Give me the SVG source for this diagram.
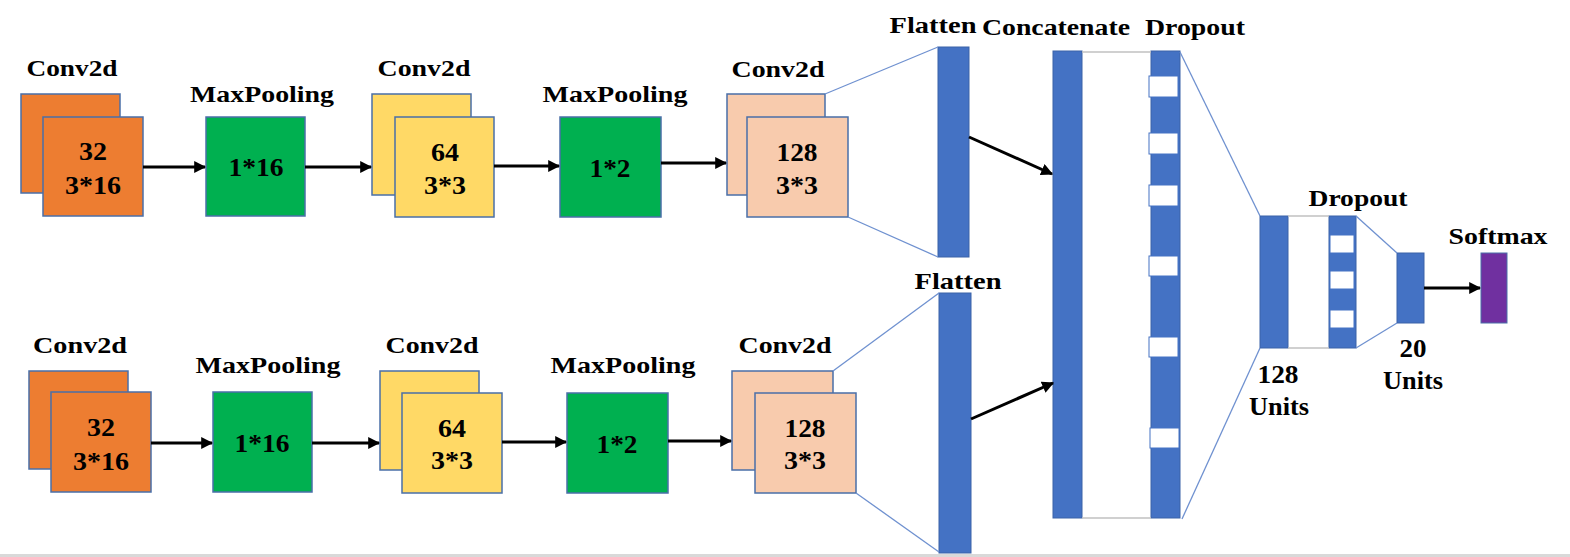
<svg xmlns="http://www.w3.org/2000/svg" width="1570" height="557" viewBox="0 0 1570 557">
<style>
.t{font-family:"Liberation Serif","Times New Roman",serif;font-weight:bold;font-size:24px;fill:#000;text-anchor:middle}
.n{font-family:"Liberation Serif","Times New Roman",serif;font-weight:bold;font-size:25px;fill:#000;text-anchor:middle}
.box{stroke:#4a6fa8;stroke-width:1.5}
.or{fill:#ED7D31}.gr{fill:#00B050}.ye{fill:#FFD966}.pe{fill:#F8CBAD}
.bar{fill:#4472C4;stroke:#3a62a8;stroke-width:1}
.hole{fill:#fff;stroke:#4472C4;stroke-width:1}
.arr{stroke:#000;stroke-width:3;fill:none;marker-end:url(#ah)}
.fan{stroke:#6f91d0;stroke-width:1.3;fill:none}
.gl{stroke:#c0c0c0;stroke-width:1.5;fill:none}
</style>
<defs>
<marker id="ah" viewBox="0 0 10 10" refX="9" refY="5" markerWidth="4" markerHeight="4" orient="auto" markerUnits="strokeWidth">
<path d="M0,0 L10,5 L0,10 z" fill="#000"/>
</marker>
</defs>
<rect x="0" y="0" width="1570" height="557" fill="#fff"/>
<rect x="0" y="554" width="1570" height="3" fill="#d9d9d9"/>

<!-- Top row -->
<g id="top-conv1">
<rect class="box or" x="21" y="94" width="99" height="99"/>
<rect class="box or" x="43" y="117" width="100" height="99"/>
<text class="t" x="72" y="76" textLength="91" lengthAdjust="spacingAndGlyphs">Conv2d</text>
<text class="n" x="93" y="160" textLength="28" lengthAdjust="spacingAndGlyphs">32</text>
<text class="n" x="93" y="194" textLength="56" lengthAdjust="spacingAndGlyphs">3*16</text>
</g>
<g id="top-pool1">
<rect class="box gr" x="206" y="117" width="99" height="99"/>
<text class="t" x="262" y="102" textLength="144" lengthAdjust="spacingAndGlyphs">MaxPooling</text>
<text class="n" x="256" y="176" textLength="55" lengthAdjust="spacingAndGlyphs">1*16</text>
</g>
<g id="top-conv2">
<rect class="box ye" x="372" y="94" width="99" height="101"/>
<rect class="box ye" x="395" y="117" width="99" height="100"/>
<text class="t" x="424" y="76" textLength="93" lengthAdjust="spacingAndGlyphs">Conv2d</text>
<text class="n" x="445" y="161" textLength="28" lengthAdjust="spacingAndGlyphs">64</text>
<text class="n" x="445" y="194" textLength="42" lengthAdjust="spacingAndGlyphs">3*3</text>
</g>
<g id="top-pool2">
<rect class="box gr" x="560" y="117" width="101" height="100"/>
<text class="t" x="615" y="102" textLength="145" lengthAdjust="spacingAndGlyphs">MaxPooling</text>
<text class="n" x="610" y="177" textLength="41" lengthAdjust="spacingAndGlyphs">1*2</text>
</g>
<g id="top-conv3">
<rect class="box pe" x="727" y="94" width="98" height="101"/>
<rect class="box pe" x="747" y="117" width="101" height="100"/>
<text class="t" x="778" y="77" textLength="93" lengthAdjust="spacingAndGlyphs">Conv2d</text>
<text class="n" x="797" y="161" textLength="41" lengthAdjust="spacingAndGlyphs">128</text>
<text class="n" x="797" y="194" textLength="42" lengthAdjust="spacingAndGlyphs">3*3</text>
</g>
<g id="top-flatten">
<rect class="bar" x="938" y="47" width="31" height="210"/>
<text class="t" x="933" y="33" textLength="87" lengthAdjust="spacingAndGlyphs">Flatten</text>
</g>

<!-- Bottom row -->
<g id="bot-conv1">
<rect class="box or" x="29" y="371" width="99" height="98"/>
<rect class="box or" x="51" y="392" width="100" height="100"/>
<text class="t" x="80" y="353" textLength="94" lengthAdjust="spacingAndGlyphs">Conv2d</text>
<text class="n" x="101" y="436" textLength="28" lengthAdjust="spacingAndGlyphs">32</text>
<text class="n" x="101" y="470" textLength="56" lengthAdjust="spacingAndGlyphs">3*16</text>
</g>
<g id="bot-pool1">
<rect class="box gr" x="213" y="392" width="99" height="100"/>
<text class="t" x="268" y="373" textLength="145" lengthAdjust="spacingAndGlyphs">MaxPooling</text>
<text class="n" x="262" y="452" textLength="55" lengthAdjust="spacingAndGlyphs">1*16</text>
</g>
<g id="bot-conv2">
<rect class="box ye" x="380" y="371" width="99" height="99"/>
<rect class="box ye" x="402" y="393" width="100" height="100"/>
<text class="t" x="432" y="353" textLength="93" lengthAdjust="spacingAndGlyphs">Conv2d</text>
<text class="n" x="452" y="437" textLength="28" lengthAdjust="spacingAndGlyphs">64</text>
<text class="n" x="452" y="469" textLength="42" lengthAdjust="spacingAndGlyphs">3*3</text>
</g>
<g id="bot-pool2">
<rect class="box gr" x="567" y="393" width="101" height="100"/>
<text class="t" x="623" y="373" textLength="145" lengthAdjust="spacingAndGlyphs">MaxPooling</text>
<text class="n" x="617" y="453" textLength="41" lengthAdjust="spacingAndGlyphs">1*2</text>
</g>
<g id="bot-conv3">
<rect class="box pe" x="732" y="371" width="101" height="99"/>
<rect class="box pe" x="755" y="393" width="101" height="100"/>
<text class="t" x="785" y="353" textLength="93" lengthAdjust="spacingAndGlyphs">Conv2d</text>
<text class="n" x="805" y="437" textLength="41" lengthAdjust="spacingAndGlyphs">128</text>
<text class="n" x="805" y="469" textLength="42" lengthAdjust="spacingAndGlyphs">3*3</text>
</g>
<g id="bot-flatten">
<rect class="bar" x="939" y="293" width="32" height="260"/>
<text class="t" x="958" y="289" textLength="87" lengthAdjust="spacingAndGlyphs">Flatten</text>
</g>

<!-- Merge and dense -->
<g id="concatenate">
<rect class="bar" x="1053" y="51" width="29" height="467"/>
<text class="t" x="1056" y="35" textLength="148" lengthAdjust="spacingAndGlyphs">Concatenate</text>
</g>
<g id="dropout1">
<rect class="bar" x="1151" y="51" width="29" height="467"/>
<rect class="hole" x="1149" y="76" width="29" height="21"/>
<rect class="hole" x="1149" y="133" width="29" height="21"/>
<rect class="hole" x="1149" y="185" width="29" height="21"/>
<rect class="hole" x="1149" y="256" width="29" height="20"/>
<rect class="hole" x="1149" y="337" width="29" height="20"/>
<rect class="hole" x="1150" y="428" width="29" height="20"/>
<text class="t" x="1195" y="35" textLength="100" lengthAdjust="spacingAndGlyphs">Dropout</text>
</g>
<g id="dense128">
<rect class="bar" x="1260" y="216" width="28" height="132"/>
<text class="n" x="1278" y="383" textLength="41" lengthAdjust="spacingAndGlyphs">128</text>
<text class="n" x="1279" y="415" textLength="60" lengthAdjust="spacingAndGlyphs">Units</text>
</g>
<g id="dropout2">
<rect class="bar" x="1329" y="216" width="27" height="132"/>
<rect class="hole" x="1330" y="235" width="24" height="18"/>
<rect class="hole" x="1330" y="271" width="24" height="18"/>
<rect class="hole" x="1330" y="310" width="24" height="18"/>
<text class="t" x="1358" y="206" textLength="99" lengthAdjust="spacingAndGlyphs">Dropout</text>
</g>
<g id="dense20">
<rect class="bar" x="1397" y="253" width="27" height="70"/>
<text class="n" x="1413" y="357" textLength="27" lengthAdjust="spacingAndGlyphs">20</text>
<text class="n" x="1413" y="389" textLength="60" lengthAdjust="spacingAndGlyphs">Units</text>
</g>
<g id="softmax">
<rect x="1481" y="253" width="26" height="70" fill="#7030A0" stroke="#4a6fa8" stroke-width="1"/>
<text class="t" x="1498" y="244" textLength="99" lengthAdjust="spacingAndGlyphs">Softmax</text>
</g>

<g id="connectors">
<line class="arr" x1="143" y1="167" x2="205" y2="167"/>
<line class="arr" x1="305" y1="167" x2="371" y2="167"/>
<line class="arr" x1="494" y1="166" x2="559" y2="166"/>
<line class="arr" x1="661" y1="163" x2="726" y2="163"/>
<line class="arr" x1="969" y1="137" x2="1052" y2="174"/>
<line class="arr" x1="1424" y1="288" x2="1480" y2="288"/>
<line class="arr" x1="151" y1="443" x2="212" y2="443"/>
<line class="arr" x1="312" y1="443" x2="379" y2="443"/>
<line class="arr" x1="502" y1="442" x2="566" y2="442"/>
<line class="arr" x1="668" y1="441" x2="731" y2="441"/>
<line class="arr" x1="971" y1="419" x2="1053" y2="383"/>
<line class="fan" x1="825" y1="94" x2="938" y2="47"/>
<line class="fan" x1="848" y1="217" x2="938" y2="257"/>
<line class="fan" x1="833" y1="371" x2="939" y2="293"/>
<line class="fan" x1="856" y1="493" x2="939" y2="552"/>
<line class="fan" x1="1180" y1="52" x2="1260" y2="216"/>
<line class="fan" x1="1182" y1="519" x2="1260" y2="348"/>
<line class="fan" x1="1356" y1="216" x2="1397" y2="253"/>
<line class="fan" x1="1356" y1="348" x2="1397" y2="323"/>
<line class="gl" x1="1082" y1="52" x2="1151" y2="52"/>
<line class="gl" x1="1082" y1="518" x2="1151" y2="518"/>
<line class="gl" x1="1288" y1="216" x2="1329" y2="216"/>
<line class="gl" x1="1288" y1="348" x2="1329" y2="348"/>
</g>
</svg>
